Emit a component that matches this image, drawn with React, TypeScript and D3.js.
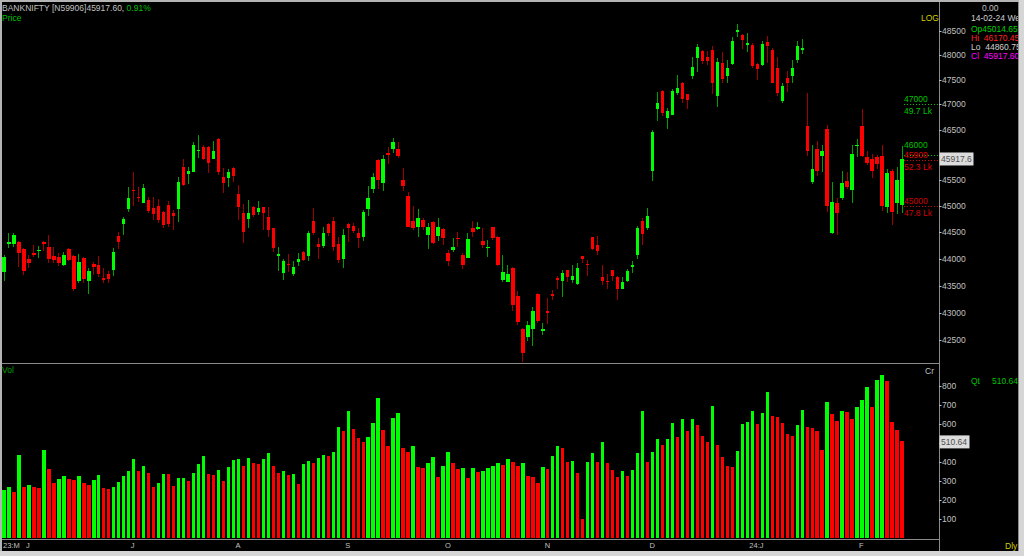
import React, { useEffect, useRef } from "react";
import * as d3 from "d3";

// ── Data (daily BANKNIFTY) ────────────────────────────────────────────────────

const OPEN = [
  43757, 44273, 44273, 44316, 44178, 44000, 44108, 44146, 44316, 44222,
  44051, 44038, 43882, 44184, 44057, 43577, 44019, 43588, 43906, 43876,
  43639, 43713, 43788, 44430, 44659, 44952, 45319, 45178, 45068, 45120,
  44966, 45004, 44883, 45017, 44864, 44941, 45755, 45624, 45669, 46069,
  46148, 46160, 45924, 46306, 45571, 45539, 45747, 45236, 44864, 44755,
  44990, 44883, 44979, 44799, 44577, 44057, 43727, 43906, 43713, 43938,
  44127, 44051, 44716, 44284, 44241, 44665, 44716, 44273, 43989, 44653,
  44627, 44492, 44405, 44941, 45332, 45898, 45454, 46030, 46121, 46115,
  45500, 45191, 44716, 44607, 44736, 44449, 44697, 44430, 44557, 44114,
  44165, 44398, 44064, 44019, 44577, 44563, 44335, 44197, 44596, 44413,
  43601, 43569, 43828, 43314, 42701, 42544, 42701, 43347, 42670, 43028,
  43334, 43635, 43590, 43783, 43609, 43519, 44053, 43904, 44413, 44256,
  43654, 43590, 43783, 43667, 43441, 43590, 43846, 44074, 44708, 44577,
  45680, 46900, 47280, 46734, 46796, 47232, 47442, 47212, 47580, 47953,
  48087, 47967, 48110, 47178, 47847, 47580, 47827, 48486, 48407, 48215,
  48215, 47812, 47806, 48264, 48110, 47735, 47078, 47545, 47580, 47896,
  48110, 46576, 45477, 46119, 45984, 46508, 44485, 45058, 45158, 45490,
  45305, 46168, 46576, 45963, 45910, 45949, 45984, 44992, 45673, 45058,
  45014.65,
];

const HIGH = [
  44070, 44481, 44492, 44341, 44197, 44076, 44259, 44240, 44341, 44449,
  44216, 44114, 44133, 44208, 44070, 44083, 44027, 43826, 43944, 44045,
  43820, 43775, 44197, 44500, 44799, 45365, 45669, 45376, 45429, 45172,
  45183, 45145, 44914, 45095, 44927, 45571, 45918, 45767, 46259, 46391,
  46194, 46174, 46279, 46326, 45735, 45716, 45767, 45409, 45042, 45120,
  45004, 45100, 44990, 44979, 44588, 44227, 44000, 44083, 43957, 44114,
  44140, 44525, 44960, 44386, 44607, 44684, 44799, 44417, 44569, 44672,
  44684, 44588, 44927, 45390, 45637, 45912, 45996, 46160, 46326, 46259,
  45747, 45280, 45004, 44946, 44768, 44684, 44716, 44768, 44577, 44165,
  44398, 44500, 44102, 44492, 44708, 44695, 44577, 44354, 44609, 44426,
  44074, 43878, 43841, 43397, 42714, 42839, 43111, 43365, 42808, 43269,
  43410, 43685, 43796, 43796, 43878, 43912, 44060, 43976, 44420, 44426,
  43878, 43717, 43796, 43685, 43654, 43815, 43963, 44629, 44774, 44960,
  46494, 47246, 47288, 46934, 47317, 47602, 47454, 47218, 47967, 48238,
  48101, 48087, 48180, 47945, 48072, 47896, 48372, 48643, 48444, 48465,
  48252, 47841, 48302, 48393, 48145, 47967, 47442, 47685, 47896, 48287,
  48343, 47232, 46202, 46269, 46202, 46596, 45477, 45158, 45673, 45659,
  46202, 46302, 46900, 46065, 46010, 45996, 46188, 45728, 45728, 45761,
  46170.45,
];

const LOW = [
  43588, 44197, 44227, 43850, 43695, 43820, 44038, 44019, 44146, 43914,
  43914, 43863, 43863, 43963, 43402, 43539, 43539, 43341, 43695, 43663,
  43539, 43539, 43682, 44178, 44449, 44895, 45010, 45087, 45056, 44864,
  44736, 44672, 44577, 44608, 44544, 44703, 45390, 45429, 45657, 45931,
  45898, 45637, 45912, 45604, 45249, 45376, 45473, 44736, 44292, 44577,
  44787, 44831, 44544, 44417, 44133, 43775, 43601, 43757, 43682, 43863,
  43957, 43951, 44449, 43989, 44208, 44430, 44152, 43914, 43831, 44322,
  44481, 44208, 44341, 44818, 45249, 45326, 45299, 45820, 46041, 45931,
  45299, 44596, 44544, 44405, 44544, 44178, 44278, 44341, 44254, 43863,
  44121, 44227, 43801, 44008, 44413, 44544, 44205, 44042, 44347, 43867,
  43569, 43556, 43035, 42765, 42096, 42482, 42388, 42808, 42595, 42796,
  43225, 43428, 43290, 43556, 43543, 43506, 43912, 43685, 44170, 44074,
  43506, 43441, 43590, 43225, 43428, 43556, 43738, 43994, 44256, 44544,
  45490, 46666, 46770, 46508, 46782, 47198, 47024, 46900, 47524, 47661,
  47827, 47792, 47218, 46942, 47442, 47442, 47806, 48372, 48124, 48072,
  47735, 47496, 47770, 47841, 47428, 47164, 47024, 47246, 47428, 47847,
  48023, 45984, 45438, 45578, 45659, 44893, 44464, 44445, 45126, 45338,
  45071, 45963, 45963, 45794, 45545, 45714, 44914, 44874, 44649, 44847,
  44860.75,
];

const CLOSE = [
  44026, 44316, 44449, 44114, 43775, 43925, 44089, 44170, 44273, 43989,
  43976, 43914, 44076, 43976, 43428, 43938, 43625, 43764, 43850, 43713,
  43614, 43620, 44127, 44316, 44749, 45158, 45293, 45158, 45346, 44914,
  44851, 44736, 44640, 44659, 44818, 45467, 45409, 45688, 46200, 46095,
  45918, 45845, 46081, 45669, 45454, 45669, 45584, 44990, 44511, 44875,
  44831, 44971, 44864, 44544, 44197, 44095, 43951, 43876, 43850, 44000,
  43976, 44492, 44481, 44216, 44492, 44481, 44222, 43976, 44443, 44577,
  44525, 44398, 44883, 45164, 45571, 45506, 45918, 46010, 46247, 45976,
  45390, 44607, 44588, 44780, 44607, 44601, 44292, 44596, 44398, 43951,
  44222, 44367, 43882, 44373, 44498, 44596, 44269, 44229, 44400, 43878,
  43751, 43717, 43142, 42827, 42264, 42777, 43028, 42839, 42701, 42996,
  43303, 43601, 43730, 43654, 43685, 43828, 43994, 43878, 44191, 44152,
  43577, 43569, 43685, 43441, 43569, 43764, 43878, 44577, 44477, 44814,
  46453, 47024, 46838, 46866, 47280, 47337, 47115, 47093, 47757, 48165,
  47876, 47876, 47442, 47861, 47510, 47743, 48302, 48520, 48308, 48252,
  47778, 47721, 48229, 48180, 47442, 47232, 47371, 47442, 47735, 48180,
  48145, 46065, 45728, 45692, 46079, 45006, 45079, 44860, 45444, 45371,
  46010, 46202, 45976, 45841, 45692, 45828, 45012, 45639, 44893, 45510,
  45917.6,
];

// volume in crore
const VOLUME = [
  253, 271, 245, 437, 271, 280, 267, 262, 463, 363,
  288, 309, 329, 309, 306, 329, 288, 280, 306, 332,
  262, 257, 267, 297, 327, 355, 414, 353, 379, 341,
  271, 288, 337, 335, 276, 314, 316, 302, 341, 390,
  432, 337, 332, 358, 302, 372, 411, 416, 379, 419,
  393, 390, 414, 449, 381, 344, 353, 332, 336, 287,
  390, 404, 393, 419, 437, 432, 454, 585, 561, 669,
  573, 524, 505, 533, 603, 734, 568, 486, 629, 655,
  472, 454, 484, 376, 367, 393, 426, 320, 377, 454,
  395, 362, 367, 316, 366, 348, 352, 366, 381, 397,
  384, 417, 402, 381, 393, 327, 323, 291, 372, 363,
  433, 482, 475, 399, 406, 343, 99, 399, 446, 402,
  504, 393, 359, 323, 352, 327, 359, 448, 666, 399,
  455, 518, 487, 520, 606, 532, 623, 561, 625, 592,
  536, 505, 691, 489, 424, 381, 375, 460, 597, 608,
  666, 601, 655, 769, 643, 634, 605, 545, 538, 594,
  671, 583, 579, 560, 464, 715, 650, 617, 666, 662,
  626, 686, 727, 791, 690, 830, 854, 823, 610, 567,
  510.64,
];

const PRICE_TICKS = [42500, 43000, 43500, 44000, 44500, 45000, 45500, 46000, 46500, 47000, 47500, 48000, 48500];
const VOLUME_TICKS = [100, 200, 300, 400, 500, 600, 700, 800];

const MONTH_LABELS = ["23:M", "J", "J", "A", "S", "O", "N", "D", "24:J", "F"];
const MONTH_INDEX = [0, 5, 26, 47, 69, 89, 109, 130, 150, 172];

// option OI levels drawn on the right edge of the price pane
const OI_PRICE = [47000, 46000, 45900, 45000];
const OI_LAKH = ["49.7 Lk", "", "52.3 Lk", "47.8 Lk"];
const OI_COLOR = ["#00c000", "#00c000", "#e00000", "#d00000"];

// ── Layout / colours ──────────────────────────────────────────────────────────

const W = 1024;
const H = 556;
const AXIS_X = 939;
const PANEL_X = 1018;
const PRICE_BOTTOM = 363;
const VOL_BOTTOM = 539.5;
const FRAME_BOTTOM = 551;
const FONT = "'Liberation Sans', Arial, sans-serif";

const UP = "#00ff00";
const DOWN = "#ff0000";
const UP_WICK = "#00a000";
const DOWN_WICK = "#a00000";
const AXIS_TEXT = "#c0c0c0";
const LINE = "#8a8a8a";

function renderChart(svgEl: SVGSVGElement) {
  const svg = d3.select(svgEl);
  svg.selectAll("*").remove();

  const n = OPEN.length;
  const idx = d3.range(n);
  const x = d3.scaleLinear().domain([0, n - 1]).range([4, 902]);
  const y = d3.scaleLog().domain([42500, 48500]).range([339.9, 31]);
  const yv = d3.scaleLinear().domain([0, 800]).range([538.3, 385.7]);
  const bw = 3.4;

  svg.append("rect").attr("width", W).attr("height", H).attr("fill", "#000");

  const defs = svg.append("defs");
  defs.append("clipPath").attr("id", "price-clip")
    .append("rect").attr("x", 1).attr("y", 2).attr("width", AXIS_X - 1).attr("height", PRICE_BOTTOM - 2);
  defs.append("clipPath").attr("id", "panel-clip")
    .append("rect").attr("x", AXIS_X + 1).attr("y", 0).attr("width", PANEL_X - AXIS_X - 1).attr("height", FRAME_BOTTOM);

  // candles
  const candles = svg.append("g").attr("clip-path", "url(#price-clip)").attr("shape-rendering", "crispEdges");
  const up = (i: number) => CLOSE[i] >= OPEN[i];

  candles.selectAll("line.wick")
    .data(idx)
    .join("line")
    .attr("class", "wick")
    .attr("x1", (i) => x(i))
    .attr("x2", (i) => x(i))
    .attr("y1", (i) => y(HIGH[i]))
    .attr("y2", (i) => y(LOW[i]))
    .attr("stroke", (i) => (up(i) ? UP_WICK : DOWN_WICK))
    .attr("stroke-width", 1);

  candles.selectAll("rect.body")
    .data(idx)
    .join("rect")
    .attr("class", "body")
    .attr("x", (i) => x(i) - bw / 2)
    .attr("y", (i) => Math.min(y(OPEN[i]), y(CLOSE[i])))
    .attr("width", bw)
    .attr("height", (i) => Math.max(1.5, Math.abs(y(OPEN[i]) - y(CLOSE[i]))))
    .attr("fill", (i) => (up(i) ? UP : DOWN));

  // volume bars, coloured by change against the previous day
  svg.append("g").attr("shape-rendering", "crispEdges")
    .selectAll("rect")
    .data(idx)
    .join("rect")
    .attr("x", (i) => x(i) - bw / 2)
    .attr("y", (i) => yv(VOLUME[i]))
    .attr("width", bw)
    .attr("height", (i) => yv(0) - yv(VOLUME[i]))
    .attr("fill", (i) => (i === 0 || VOLUME[i] >= VOLUME[i - 1] ? UP : DOWN));

  // OI levels (value above the dotted line, lakh OI below)
  const oi = svg.append("g").attr("font-family", FONT).attr("font-size", 8.5);
  OI_PRICE.forEach((p, k) => {
    const yy = Math.round(y(p)) + 0.5;
    oi.append("line")
      .attr("x1", 904).attr("x2", AXIS_X).attr("y1", yy).attr("y2", yy)
      .attr("stroke", OI_COLOR[k]).attr("stroke-dasharray", "1,2");
    const above = OI_LAKH[k] ? 2.5 : 7.5; // the bare 46000 label sits just over the 45900 one
    oi.append("text").attr("x", 904).attr("y", yy - above).attr("fill", OI_COLOR[k]).text(String(p));
    if (OI_LAKH[k]) {
      oi.append("text").attr("x", 904).attr("y", yy + 9.5).attr("fill", OI_COLOR[k]).text(OI_LAKH[k]);
    }
  });

  // frame lines
  const frame = svg.append("g").attr("shape-rendering", "crispEdges").attr("stroke", LINE);
  frame.append("line").attr("x1", 0).attr("x2", AXIS_X).attr("y1", PRICE_BOTTOM).attr("y2", PRICE_BOTTOM);
  frame.append("line").attr("x1", 0).attr("x2", AXIS_X).attr("y1", VOL_BOTTOM).attr("y2", VOL_BOTTOM);
  frame.append("line").attr("x1", AXIS_X).attr("x2", AXIS_X).attr("y1", 0).attr("y2", FRAME_BOTTOM);
  frame.append("line").attr("x1", PANEL_X).attr("x2", PANEL_X).attr("y1", 0).attr("y2", FRAME_BOTTOM);

  const lastP = CLOSE[n - 1];
  const lastV = VOLUME[n - 1];

  // price axis (labels under the last-price box are hidden, as in the terminal)
  const pax = svg.append("g").attr("font-family", FONT).attr("font-size", 8.5).attr("fill", AXIS_TEXT);
  PRICE_TICKS.forEach((t) => {
    const yy = Math.round(y(t)) + 0.5;
    pax.append("line").attr("x1", AXIS_X).attr("x2", AXIS_X + 2.5).attr("y1", yy).attr("y2", yy).attr("stroke", AXIS_TEXT);
    if (Math.abs(y(t) - y(lastP)) > 11) {
      pax.append("text").attr("x", AXIS_X + 3).attr("y", yy).attr("dy", "0.35em").text(String(t));
    }
  });

  // volume axis
  VOLUME_TICKS.forEach((t) => {
    const yy = Math.round(yv(t)) + 0.5;
    pax.append("line").attr("x1", AXIS_X).attr("x2", AXIS_X + 2.5).attr("y1", yy).attr("y2", yy).attr("stroke", AXIS_TEXT);
    if (Math.abs(yv(t) - yv(lastV)) > 11) {
      pax.append("text").attr("x", AXIS_X + 3).attr("y", yy).attr("dy", "0.35em").text(String(t));
    }
  });

  // last value boxes
  const boxes = svg.append("g").attr("font-family", FONT).attr("font-size", 8.5);
  boxes.append("rect").attr("x", AXIS_X + 0.5).attr("y", y(lastP) - 6.5).attr("width", 34).attr("height", 13).attr("fill", "#dcdcdc");
  boxes.append("text").attr("x", AXIS_X + 2).attr("y", y(lastP)).attr("dy", "0.35em").attr("fill", "#505050").text(lastP.toFixed(1));
  boxes.append("rect").attr("x", AXIS_X + 0.5).attr("y", yv(lastV) - 5.5).attr("width", 30).attr("height", 13).attr("fill", "#dcdcdc");
  boxes.append("text").attr("x", AXIS_X + 2).attr("y", yv(lastV) + 1).attr("dy", "0.35em").attr("fill", "#505050").text(lastV.toFixed(2));

  // date axis
  const dax = svg.append("g").attr("font-family", FONT).attr("font-size", 7.5).attr("fill", AXIS_TEXT);
  MONTH_LABELS.forEach((m, k) => {
    const xx = k === 0 ? 3 : x(MONTH_INDEX[k]) - 3;
    dax.append("text").attr("x", xx).attr("y", 548).text(m);
  });

  // titles
  const t = svg.append("g").attr("font-family", FONT).attr("font-size", 8.5);
  const head = t.append("text").attr("x", 2).attr("y", 10.5);
  head.append("tspan").attr("fill", AXIS_TEXT).text(`BANKNIFTY [N59906]${lastP.toFixed(2)}, `);
  head.append("tspan").attr("fill", "#00c000").text(" 0.91%");
  t.append("text").attr("x", 2).attr("y", 21).attr("fill", "#00c000").text("Price");
  t.append("text").attr("x", 2).attr("y", 373).attr("fill", "#00a000").text("Vol");
  t.append("text").attr("x", 925).attr("y", 374).attr("fill", AXIS_TEXT).text("Cr");
  t.append("text").attr("x", 921).attr("y", 21).attr("fill", "#d0d000").text("LOG");

  // info panel
  const info = svg.append("g").attr("clip-path", "url(#panel-clip)").attr("font-family", FONT).attr("font-size", 8.5);
  const rows: [string, string, number, number][] = [
    ["0.00", AXIS_TEXT, 982, 10.5],
    ["14-02-24 We", "#d0d0d0", 971, 21],
    [`Op${OPEN[n - 1].toFixed(2)}`, "#00d000", 971, 32],
    [`Hi  ${HIGH[n - 1].toFixed(2)}`, "#ff2020", 971, 40.5],
    [`Lo  ${LOW[n - 1].toFixed(2)}`, "#d0d0d0", 971, 49.5],
    [`Cl  ${CLOSE[n - 1].toFixed(2)}`, "#ff00ff", 971, 58.5],
  ];
  rows.forEach(([s, c, xx, yy]) => info.append("text").attr("x", xx).attr("y", yy).attr("fill", c).attr("xml:space", "preserve").text(s));
  info.append("text").attr("x", 971).attr("y", 384).attr("fill", "#00c000").text("Qt");
  info.append("text").attr("x", 992).attr("y", 384).attr("fill", "#00c000").text(lastV.toFixed(2));
  svg.append("text").attr("x", 1005).attr("y", 549).attr("font-family", FONT).attr("font-size", 8.5).attr("fill", "#d0d000").text("Dly");

  // window border
  const border = svg.append("g").attr("shape-rendering", "crispEdges");
  border.append("rect").attr("x", 0).attr("y", 0).attr("width", W).attr("height", 1.5).attr("fill", "#b4b4b4");
  border.append("rect").attr("x", 0).attr("y", 0).attr("width", 1.5).attr("height", H).attr("fill", "#b4b4b4");
  border.append("rect").attr("x", PANEL_X + 1).attr("y", 0).attr("width", W - PANEL_X - 1).attr("height", H).attr("fill", "#d6d6d6");
  border.append("rect").attr("x", 0).attr("y", FRAME_BOTTOM).attr("width", W).attr("height", H - FRAME_BOTTOM).attr("fill", "#d6d6d6");
}

export default function App() {
  const svgRef = useRef<SVGSVGElement>(null);

  useEffect(() => {
    if (svgRef.current) renderChart(svgRef.current);
  }, []);

  return (
    <svg
      ref={svgRef}
      width={W}
      height={H}
      style={{ position: "absolute", left: 0, top: 0, display: "block" }}
    />
  );
}
